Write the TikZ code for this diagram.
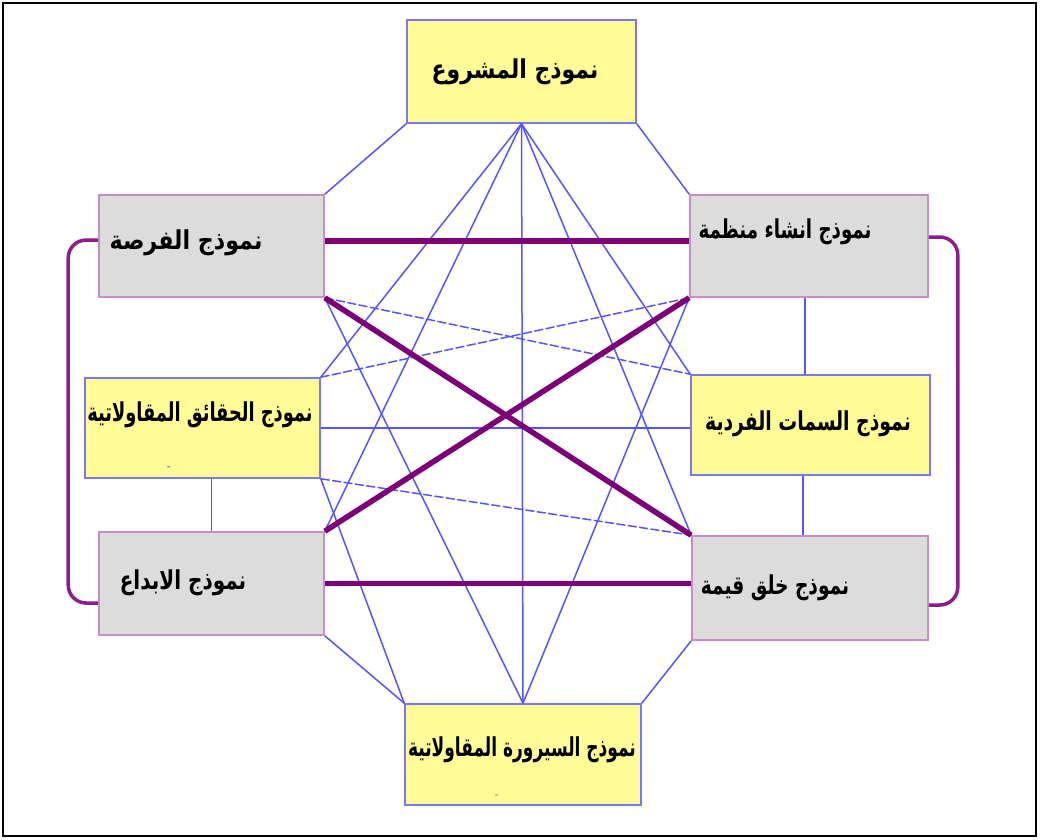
\documentclass[tikz,border=0pt]{standalone}
\usepackage{fontspec}
\usepackage{graphicx}
\newfontfamily\arabicfont[Script=Arabic]{DejaVu Sans}
\TeXXeTstate=1
\definecolor{boxyellow}{RGB}{255,251,150}
\definecolor{boxgray}{RGB}{220,220,220}
\definecolor{lineblue}{RGB}{85,85,255}
\definecolor{edgeblue}{RGB}{120,120,255}
\definecolor{edgepurple}{RGB}{200,140,200}
\definecolor{thickpurple}{RGB}{125,0,120}
\definecolor{bracketpurple}{RGB}{140,30,140}
\tikzset{
  ybox/.style={draw=edgeblue, fill=boxyellow, line width=1.6pt, inner sep=0pt},
  gbox/.style={draw=edgepurple, fill=boxgray, line width=1.6pt, inner sep=0pt},
  lbl/.style={inner sep=0pt, font=\arabicfont\bfseries\fontsize{20}{22}\selectfont},
  thin/.style={draw=lineblue, line width=1.5pt},
  thindash/.style={draw=lineblue, line width=1.5pt, dash pattern=on 9pt off 2.5pt},
  thick/.style={draw=thickpurple, line width=5.5pt},
  bracket/.style={draw=bracketpurple, line width=3.5pt, rounded corners=18pt},
}
\newcommand{\lab}[2]{\scalebox{#1}[1.3]{#2}}
\begin{document}
\begin{tikzpicture}[x=1pt,y=-1pt]
\useasboundingbox (0,0) rectangle (1040,839);
\draw[line width=2pt] (3,3) rectangle (1036,836);

% boxes
\node[ybox, minimum width=229pt, minimum height=103pt] (P) at (521.5,71.5) {};
\node[gbox, minimum width=225pt, minimum height=102pt] (O) at (211.5,246) {};
\node[gbox, minimum width=238pt, minimum height=102pt] (N) at (809,246) {};
\node[ybox, minimum width=235pt, minimum height=100pt] (F) at (202.5,428) {};
\node[ybox, minimum width=239pt, minimum height=100pt] (S) at (810.5,425) {};
\node[gbox, minimum width=225pt, minimum height=103pt] (C) at (211.5,583.5) {};
\node[gbox, minimum width=236pt, minimum height=104pt] (V) at (810,588) {};
\node[ybox, minimum width=236pt, minimum height=101pt] (R) at (523,754.5) {};

% connectors (thin blue)
\draw[thin] (P.south west) -- (O.north east);
\draw[thin] (P.south east) -- (N.north west);
\draw[thin] (P.south) -- (F.north east);
\draw[thin] (P.south) -- (C.north east);
\draw[thin] (P.south) -- (R.north);
\draw[thin] (P.south) -- (V.north west);
\draw[thin] (P.south) -- (S.north west);
\draw[thin] (O.south east) -- (R.north);
\draw[thin] (N.south west) -- (R.north);
\draw[thin] (F.south east) -- (R.north west);
\draw[thin] (C.south east) -- (R.north west);
\draw[thin] (V.south west) -- (R.north east);
\draw[thin] (F.east) -- (S.west |- F.east);
\draw[thin] (N.south -| 805,0) -- (S.north -| 805,0);
\draw[thin] (S.south -| 803,0) -- (V.north -| 803,0);
\draw[thin] (F.south -| C.north) -- (C.north);
% dashed
\draw[thindash] (O.south east) -- (S.north west);
\draw[thindash] (N.south west) -- (F.north east);
\draw[thindash] (F.south east) -- (V.north west);
% thick purple
\draw[thick] ([yshift=5pt]O.east) -- ([yshift=5pt]N.west);
\draw[thick] (C.east) -- (C.east -| V.west);
\draw[thick] (O.south east) -- (V.north west);
\draw[thick] (C.north east) -- (N.south west);
% brackets
\draw[bracket] ([yshift=6pt]O.west) -- ++(-30,0) |- (C.west |- 0,603);
\draw[bracket] ([yshift=9pt]N.east) -- ++(29,0) |- (V.east |- 0,605);

% labels
\node[lbl] (Pt) at (515,72) {\lab{1.10}{\beginR نموذج المشروع\endR}};
\node[lbl] (Ot) at (186,243) {\lab{1.11}{\beginR نموذج الفرصة\endR}};
\node[lbl] (Nt) at (785,232) {\lab{0.91}{\beginR نموذج انشاء منظمة\endR}};
\node[lbl] (Ft) at (200,415) {\lab{0.89}{\beginR نموذج الحقائق المقاولاتية\endR}};
\node[lbl] (St) at (808,424) {\lab{0.94}{\beginR نموذج السمات الفردية\endR}};
\node[lbl] (Ct) at (183,583) {\lab{1.0}{\beginR نموذج الابداع\endR}};
\node[lbl] (Vt) at (775,588) {\lab{0.93}{\beginR نموذج خلق قيمة\endR}};
\node[lbl] (Rt) at (522,750) {\lab{0.85}{\beginR نموذج السيرورة المقاولاتية\endR}};
\node[inner sep=0pt, text=lineblue, font=\bfseries] (Fd) at (169,468) {-};
\node[inner sep=0pt, text=gray, font=\bfseries\small] (Rd) at (497,796) {-};
\end{tikzpicture}
\end{document}
